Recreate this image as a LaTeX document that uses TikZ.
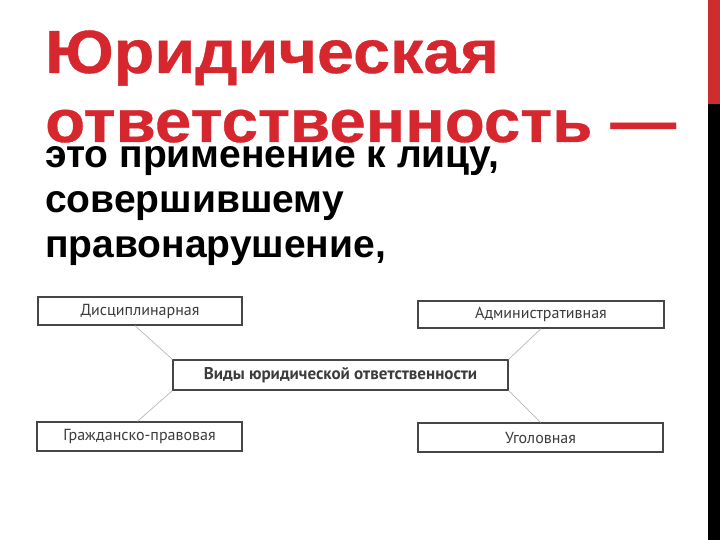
\documentclass[tikz,border=0pt]{standalone}
\usepackage{fontspec}
\usepackage{tikz}
\usetikzlibrary{positioning,calc}
\setmainfont{Liberation Sans}
\newfontfamily\titlefont[FakeStretch=1.09,FakeBold=0.6]{Liberation Sans}
\newfontfamily\boxfont{PT Sans}
\definecolor{titlered}{RGB}{214,38,46}
\definecolor{barred}{RGB}{207,44,46}
\definecolor{boxline}{RGB}{70,70,70}
\definecolor{boxtext}{RGB}{60,60,60}
\definecolor{linkgray}{RGB}{185,185,185}
\tikzset{
  kindbox/.style={draw=boxline,line width=1.3pt,fill=white,inner sep=0pt,
    font=\boxfont\fontsize{16}{19}\selectfont,text=boxtext},
  link/.style={draw=linkgray,line width=0.7pt}
}

\begin{document}
\begin{tikzpicture}[x=1pt,y=-1pt]
\useasboundingbox (0,0) rectangle (720,540);
\fill[white] (0,0) rectangle (720,540);
% side bar
\fill[barred] (708,0) rectangle (720,104);
\fill[black] (708,104) rectangle (720,540);
% title and definition
\node[anchor=base west,inner sep=0pt,text=titlered,font=\titlefont\bfseries\fontsize{61}{70}\selectfont] (t1) at (45,73) {Юридическая};
\node[anchor=base west,inner sep=0pt,text=titlered,font=\titlefont\bfseries\fontsize{60}{70}\selectfont] (t2) at (45,142) {ответственность —};
\node[anchor=base west,inner sep=0pt,font=\bfseries\fontsize{39}{47}\selectfont] (d1) at (45,168) {это применение к лицу,};
\node[anchor=base west,inner sep=0pt,font=\bfseries\fontsize{39}{47}\selectfont] (d2) at (45,213) {совершившему};
\node[anchor=base west,inner sep=0pt,font=\bfseries\fontsize{39}{47}\selectfont] (d3) at (45,257) {правонарушение,};
% kinds
\node[kindbox,minimum width=204,minimum height=28] (disc) at (140,311) {Дисциплинарная};
\node[kindbox,minimum width=246,minimum height=27] (admin) at (541,314.5) {Административная};
\node[kindbox,minimum width=335,minimum height=30,font=\boxfont\bfseries\fontsize{17}{20}\selectfont] (kinds) at (340.5,375) {Виды юридической ответственности};
\node[kindbox,minimum width=205,minimum height=29] (civil) at (139.5,436.5) {Гражданско-правовая};
\node[kindbox,minimum width=245,minimum height=29] (crim) at (540.5,437.5) {Уголовная};
\draw[link] ([xshift=-5pt]disc.south) -- (kinds.north west);
\draw[link] (admin.south) -- (kinds.north east);
\draw[link] ([xshift=-2pt]civil.north) -- (kinds.south west);
\draw[link] (crim.north) -- (kinds.south east);
\end{tikzpicture}
\end{document}
